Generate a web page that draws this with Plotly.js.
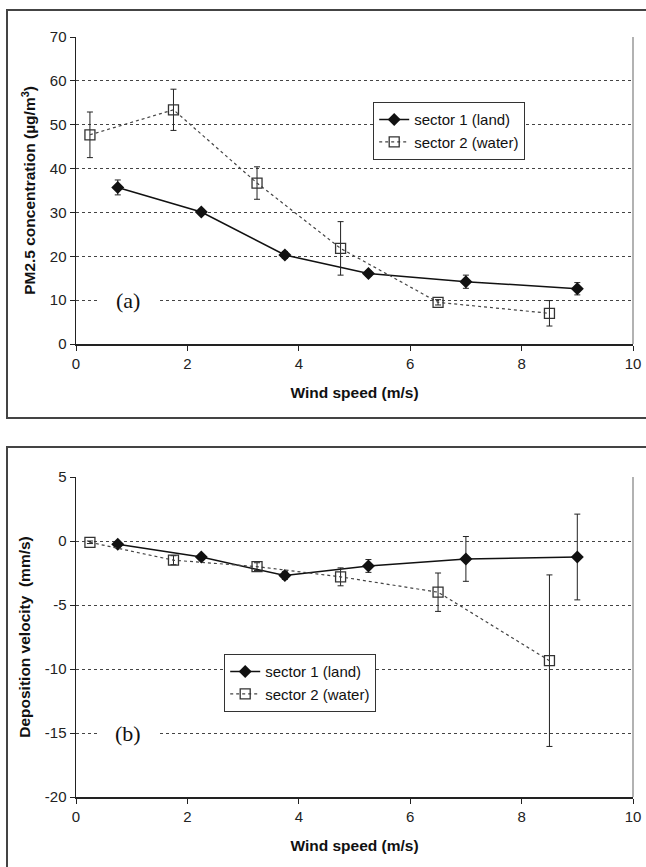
<!DOCTYPE html>
<html>
<head>
<meta charset="utf-8">
<script src="https://cdn.plot.ly/plotly-3.0.1.min.js"></script>
<style>html,body{margin:0;padding:0;background:#fff;}#chart{width:646px;height:867px;}</style>
</head>
<body>
<div id="chart"></div>
<script>
// Wind speed bins (m/s)
var windLand  = [0.75, 2.25, 3.75, 5.25, 7.0, 9.0];
var windWater = [0.25, 1.75, 3.25, 4.75, 6.5, 8.5];
// (a) PM2.5 concentration (ug/m3)
var pmLand     = [35.7, 30.1, 20.3, 16.1, 14.2, 12.6];
var pmLandErr  = [1.7, 0.6, 0.8, 0.6, 1.5, 1.4];
var pmWater    = [47.7, 53.4, 36.7, 21.8, 9.5, 7.0];
var pmWaterErr = [5.2, 4.7, 3.7, 6.1, 0.6, 2.9];
// (b) Deposition velocity (mm/s)
var dvLand     = [-0.25, -1.25, -2.7, -1.95, -1.4, -1.25];
var dvLandErr  = [0.2, 0.2, 0.3, 0.5, 1.75, 3.35];
var dvWater    = [-0.1, -1.5, -2.0, -2.8, -4.0, -9.35];
var dvWaterErr = [0.1, 0.35, 0.3, 0.7, 1.5, 6.7];
// Tick labels
var xTicks = [0, 2, 4, 6, 8, 10];
var yTicksA = [0, 10, 20, 30, 40, 50, 60, 70];
var yTicksB = [5, 0, -5, -10, -15, -20];
var yTickTextB = ["5", "0", "-5", "-10", "-15", "-20"];
var nameLand = "sector 1 (land)";
var nameWater = "sector 2 (water)";

var W = 646, H = 867;
function px(v){ return v / W; }
function py(v){ return 1 - v / H; }

var landStyle = {
  mode: 'lines+markers',
  line: {color: '#111', width: 1.5},
  marker: {symbol: 'diamond', size: 10, color: '#111'}
};
var waterStyle = {
  mode: 'lines+markers',
  line: {color: '#444', width: 1.2, dash: 'dot'},
  marker: {symbol: 'square-open', size: 10, color: '#333', line: {width: 1.3, color: '#333'}}
};
function err(a){ return {type: 'data', array: a, visible: true, color: '#222', thickness: 1, width: 3}; }
function tr(style, x, y, e, name, xa, ya, lg){
  var t = {type: 'scatter', x: x, y: y, error_y: err(e), name: name, xaxis: xa, yaxis: ya, legend: lg, showlegend: true};
  t.mode = style.mode; t.line = style.line; t.marker = style.marker;
  return t;
}

var data = [
  tr(landStyle, windLand, pmLand, pmLandErr, nameLand, 'x', 'y', 'legend'),
  tr(waterStyle, windWater, pmWater, pmWaterErr, nameWater, 'x', 'y', 'legend'),
  tr(landStyle, windLand, dvLand, dvLandErr, nameLand, 'x2', 'y2', 'legend2'),
  tr(waterStyle, windWater, dvWater, dvWaterErr, nameWater, 'x2', 'y2', 'legend2')
];

var tickFont = {family: 'Liberation Sans, Arial, sans-serif', size: 15, color: '#222'};
var titleFont = {family: 'Liberation Sans, Arial, sans-serif', size: 15.5, color: '#111', weight: 'bold'};

function xAxis(anchor){
  return {
    domain: [px(76), px(633)], anchor: anchor, range: [0, 10],
    tickvals: xTicks, ticks: 'outside', ticklen: 5, tickcolor: '#222',
    showline: true, linecolor: '#222', linewidth: 1.5,
    showgrid: false, zeroline: false, tickfont: tickFont,
    title: {text: 'Wind speed (m/s)', font: titleFont, standoff: 16},
    fixedrange: true
  };
}
function yAxis(anchor, dom, rng, vals, text, title){
  var a = {
    domain: dom, anchor: anchor, range: rng,
    tickvals: vals, ticks: 'outside', ticklen: 5, tickcolor: '#222',
    showline: true, linecolor: '#222', linewidth: 1.5,
    showgrid: true, gridcolor: '#444', gridwidth: 1, griddash: 'dot',
    zeroline: false, tickfont: tickFont,
    title: {text: title, font: titleFont, standoff: 10},
    fixedrange: true
  };
  if (text) a.ticktext = text;
  return a;
}

var legFont = {family: 'Liberation Sans, Arial, sans-serif', size: 15, color: '#111'};
var labelFont = {family: 'Liberation Serif, Times New Roman, serif', size: 22, color: '#111'};
var layout = {
  width: W, height: H,
  margin: {l: 0, r: 0, t: 0, b: 0},
  paper_bgcolor: '#fff', plot_bgcolor: 'rgba(0,0,0,0)',
  xaxis: xAxis('y'),
  yaxis: yAxis('x', [py(344), py(37)], [0, 70], yTicksA, null, 'PM2.5 concentration (µg/m<sup>3</sup>)'),
  xaxis2: xAxis('y2'),
  yaxis2: yAxis('x2', [py(797), py(477)], [-20, 5], yTicksB, yTickTextB, 'Deposition velocity  (mm/s)'),
  legend: {x: px(373), y: py(102), xanchor: 'left', yanchor: 'top', bgcolor: '#fff',
           bordercolor: '#333', borderwidth: 1.2, font: legFont, tracegroupgap: 0},
  legend2: {x: px(224), y: py(654), xanchor: 'left', yanchor: 'top', bgcolor: '#fff',
           bordercolor: '#333', borderwidth: 1.2, font: legFont, tracegroupgap: 0},
  shapes: [
    // outer frames
    {type: 'rect', xref: 'paper', yref: 'paper', x0: px(7), x1: px(650), y0: py(418), y1: py(10),
     line: {color: '#444', width: 2}, fillcolor: 'rgba(0,0,0,0)', layer: 'below'},
    {type: 'rect', xref: 'paper', yref: 'paper', x0: px(7), x1: px(650), y0: py(880), y1: py(447),
     line: {color: '#444', width: 2}, fillcolor: 'rgba(0,0,0,0)', layer: 'below'},
    // right plot-area borders
    {type: 'line', xref: 'x domain', yref: 'y domain', x0: 1, x1: 1, y0: 0, y1: 1, line: {color: '#999', width: 1.5}},
    {type: 'line', xref: 'x2 domain', yref: 'y2 domain', x0: 1, x1: 1, y0: 0, y1: 1, line: {color: '#999', width: 1.5}},
    // white gaps in the gridlines behind the panel labels
    {type: 'rect', xref: 'paper', yref: 'paper', x0: px(99), x1: px(158), y0: py(311), y1: py(289),
     line: {width: 0}, fillcolor: '#fff', layer: 'above'},
    {type: 'rect', xref: 'paper', yref: 'paper', x0: px(99), x1: px(158), y0: py(744), y1: py(722),
     line: {width: 0}, fillcolor: '#fff', layer: 'above'}
  ],
  annotations: [
    {xref: 'x', yref: 'y', x: 0.93, y: 10, text: '(a)', showarrow: false, font: labelFont},
    {xref: 'x2', yref: 'y2', x: 0.93, y: -15, text: '(b)', showarrow: false, font: labelFont}
  ]
};

Plotly.newPlot('chart', data, layout, {displayModeBar: false, staticPlot: true});
</script>
</body>
</html>
